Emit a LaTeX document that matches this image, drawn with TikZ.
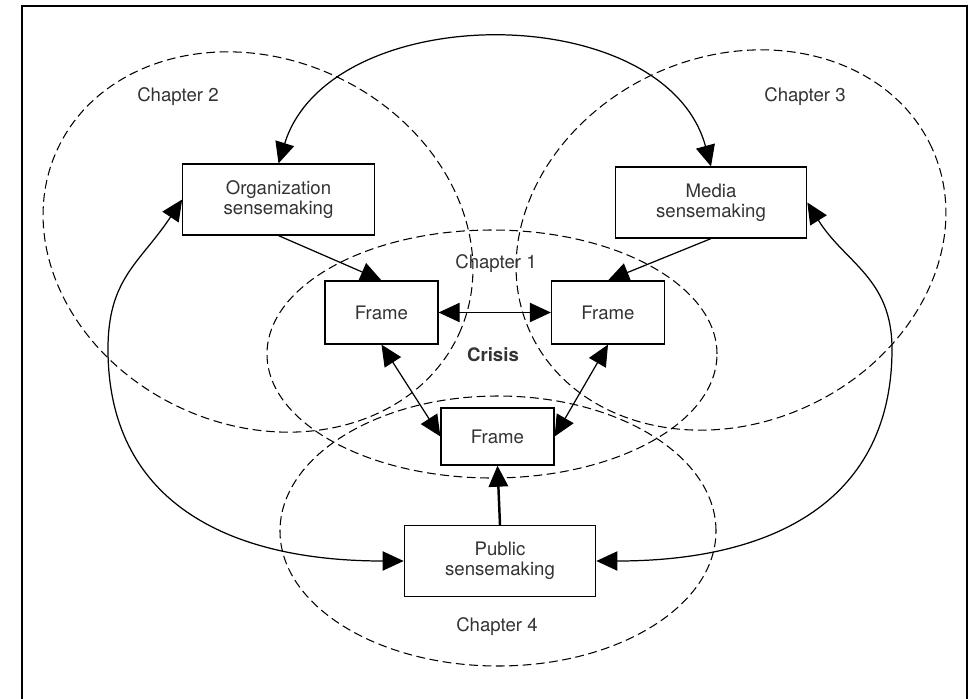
\documentclass[tikz,border=0pt]{standalone}
\usepackage{fontspec}
\setmainfont{TeX Gyre Heros}
\usetikzlibrary{arrows.meta}
\definecolor{inkgray}{HTML}{333333}
\begin{document}
\begin{tikzpicture}[x=0.02cm,y=0.02cm,
    font=\fontsize{10.6}{11.2}\selectfont,
    every node/.style={text=inkgray},
    chapter/.style={dashed,dash pattern=on 5pt off 2.6pt,line width=0.6pt},
    sensebox/.style={draw,line width=0.7pt,align=center,inner sep=0pt,
      minimum width=3.83cm,minimum height=1.42cm},
    framebox/.style={draw,line width=0.7pt,inner sep=0pt,
      minimum width=2.26cm,minimum height=1.26cm},
    link/.style={line width=0.7pt,-{Triangle[length=12pt,width=11pt]}},
    twoway/.style={line width=0.7pt,{Triangle[length=12pt,width=11pt]}-{Triangle[length=12pt,width=11pt]}}]
   \useasboundingbox (0,0) rectangle (970,698);
   \draw[line width=0.6pt] (22,-5) -- (22,692) -- (967,692) -- (967,-5);
   % chapters
   \draw[chapter,rotate around={-24.6:(258,456)}] (258,456) ellipse [x radius=221,y radius=183];
   \draw[chapter,rotate around={24.6:(731,458)}] (731,458) ellipse [x radius=221,y radius=183];
   \draw[chapter] (492,344) ellipse [x radius=225,y radius=124];
   \draw[chapter] (498,167) ellipse [x radius=218,y radius=135];
   \node (ch2) at (178,601) {Chapter 2};
   \node (ch3) at (805,601) {Chapter 3};
   \node (ch1) at (496,434) {Chapter 1};
   \node (ch4) at (497,71) {Chapter 4};
   \node (crisis) at (493,343) {\bfseries Crisis};
   % boxes
   \node[sensebox] (org) at (278.5,498.5) {Organization\\sensemaking};
   \node[sensebox] (media) at (711,495.5) {Media\\sensemaking};
   \node[sensebox] (public) at (500,137) {Public\\sensemaking};
   \node[framebox] (frameL) at (381.5,385.5) {Frame};
   \node[framebox] (frameR) at (608,385.5) {Frame};
   \node[framebox,minimum height=1.14cm] (frameB) at (497.5,261.5) {Frame};
   % links
   \draw[link] (org.south) -- (frameL.north);
   \draw[link] (media.south) -- (frameR.north);
   \draw[twoway] (frameL.east) -- (frameR.west);
   \draw[twoway] (frameL.south) -- (frameB.west);
   \draw[twoway] (frameR.south) -- (frameB.east);
   \draw[link,line width=1.4pt] (public.north) -- (frameB.south);
   \draw[twoway] (org.north) .. controls (330,700) and (665,700) .. (media.north);
   \draw[twoway] (org.west) .. controls (140,435) and (108,420) .. (108,349)
      .. controls (108,199) and (224,137) .. (public.west);
   \draw[twoway] (media.east) .. controls (845,435) and (892,420) .. (892,349)
      .. controls (892,199) and (776,137) .. (public.east);
\end{tikzpicture}
\end{document}
